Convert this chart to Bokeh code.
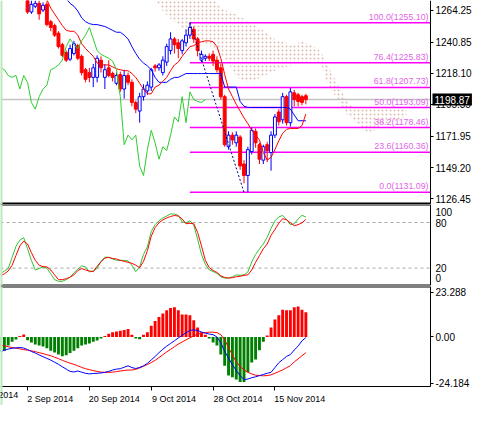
from bokeh.plotting import figure
from bokeh.models import Range1d, LinearAxis, FixedTicker, Span, Label, PrintfTickFormatter
from bokeh.layouts import column
from bokeh.embed import file_html
from bokeh.resources import INLINE
from bokeh.core.properties import value

FONT = "Liberation Sans"
TOTAL_W = 474          # whole canvas width
CHART_W = 430          # width of the plotting area left of the price scale

# ---------------- data (bar index 0 = 2 Sep 2014) ----------------
bar_idx = list(range(73))
opens = [1273.4, 1262.9, 1267.1, 1269.2, 1264.3, 1268.5, 1255.8, 1253.0, 1247.4, 1239.0,
         1233.3, 1228.4, 1232.6, 1238.3, 1230.5, 1220.7, 1218.6, 1215.1, 1215.1, 1227.7,
         1215.1, 1222.1, 1217.9, 1210.8, 1217.2, 1206.6, 1216.5, 1211.5, 1196.8, 1190.5,
         1201.0, 1205.2, 1208.0, 1223.5, 1222.1, 1218.6, 1226.3, 1234.7, 1243.2, 1240.4,
         1234.7, 1240.4, 1246.0, 1250.2, 1243.2, 1227.7, 1229.1, 1230.5, 1231.9, 1227.7,
         1222.1, 1201.0, 1164.4, 1172.9, 1167.3, 1171.5, 1151.8, 1143.4, 1160.9, 1175.7,
         1165.9, 1154.6, 1165.9, 1160.2, 1172.9, 1189.8, 1184.1, 1201.0, 1182.0, 1203.8,
         1202.4, 1201.0, 1201.7]
closes = [1262.9, 1268.5, 1269.2, 1261.5, 1267.8, 1253.7, 1251.6, 1246.0, 1237.6, 1231.2,
          1227.7, 1236.2, 1239.7, 1229.1, 1218.6, 1213.7, 1215.1, 1222.1, 1229.1, 1222.1,
          1220.7, 1216.5, 1215.1, 1216.5, 1206.6, 1216.5, 1211.5, 1196.8, 1191.9, 1201.0,
          1206.6, 1209.4, 1220.7, 1222.1, 1224.2, 1227.7, 1237.6, 1243.2, 1239.0, 1236.2,
          1241.8, 1246.0, 1251.6, 1243.2, 1234.7, 1231.9, 1230.5, 1229.1, 1227.0, 1220.7,
          1201.0, 1165.9, 1172.9, 1169.4, 1172.9, 1150.4, 1143.4, 1162.3, 1176.4, 1167.3,
          1155.3, 1164.4, 1161.6, 1172.9, 1186.2, 1182.7, 1201.0, 1182.0, 1204.5, 1198.9,
          1197.5, 1196.8, 1198.87]
highs = [1275.5, 1271.3, 1271.3, 1271.3, 1269.9, 1270.6, 1257.2, 1254.4, 1248.8, 1240.4,
         1234.7, 1239.0, 1241.8, 1239.7, 1231.9, 1222.1, 1222.1, 1224.9, 1231.2, 1230.5,
         1224.9, 1227.7, 1219.3, 1218.6, 1219.3, 1220.7, 1218.6, 1213.7, 1198.2, 1203.8,
         1210.1, 1212.2, 1222.1, 1224.9, 1225.6, 1230.5, 1239.7, 1248.1, 1244.6, 1243.2,
         1243.2, 1250.2, 1255.1, 1252.3, 1244.6, 1234.7, 1231.9, 1232.6, 1234.7, 1230.5,
         1224.9, 1202.4, 1175.7, 1175.0, 1175.7, 1172.9, 1154.6, 1164.4, 1178.5, 1177.8,
         1167.3, 1165.9, 1168.0, 1175.7, 1188.3, 1191.9, 1203.8, 1202.4, 1207.5, 1205.9,
         1203.8, 1202.4, 1203.1]
lows = [1261.5, 1261.5, 1265.7, 1257.2, 1262.9, 1252.3, 1248.8, 1244.6, 1236.2, 1229.8,
        1226.3, 1227.0, 1231.2, 1227.7, 1216.5, 1211.5, 1211.5, 1208.0, 1211.5, 1218.6,
        1206.6, 1215.1, 1212.2, 1209.4, 1204.5, 1199.6, 1209.4, 1194.0, 1189.0, 1182.0,
        1198.2, 1202.4, 1205.2, 1219.3, 1220.0, 1216.5, 1223.5, 1231.9, 1232.6, 1229.1,
        1231.9, 1237.6, 1243.2, 1240.4, 1230.5, 1226.3, 1227.0, 1227.0, 1223.5, 1218.6,
        1198.9, 1164.4, 1162.3, 1165.9, 1164.4, 1147.6, 1137.7, 1131.09, 1158.8, 1163.7,
        1151.8, 1151.8, 1153.2, 1146.9, 1170.8, 1179.9, 1181.3, 1179.9, 1179.2, 1194.0,
        1194.0, 1194.7, 1195.4]

tenkan_idx = list(range(5, 73))
tenkan = [1272.0, 1265.7, 1261.5, 1257.2, 1253.0,
          1249.5, 1248.8, 1248.8, 1246.0, 1239.7, 1236.2, 1233.3, 1230.5, 1225.6, 1224.2,
          1224.2, 1224.2, 1222.8, 1221.4, 1220.7, 1220.0, 1220.0, 1217.9, 1215.1, 1210.8,
          1206.6, 1203.1, 1203.1, 1208.0, 1209.4, 1212.2, 1215.1, 1220.0, 1224.2, 1226.3,
          1230.5, 1234.0, 1237.6, 1238.3, 1240.4, 1241.1, 1241.8, 1241.8, 1241.1, 1237.6,
          1229.1, 1217.2, 1206.6, 1201.0, 1195.4, 1190.5, 1185.5, 1181.3, 1176.4, 1172.9,
          1169.4, 1160.2, 1154.6, 1156.7, 1162.3, 1168.7, 1174.3, 1177.1, 1177.8, 1177.8,
          1177.8, 1179.9, 1188.3]
kijun_idx = list(range(10, 73))
kijun = [1272.7, 1269.2, 1267.1, 1263.6, 1258.6, 1255.8, 1254.4, 1253.7, 1253.7, 1253.0,
         1252.3, 1250.9, 1249.5, 1248.1, 1248.1, 1246.0, 1243.2, 1237.6, 1232.6, 1228.4,
         1225.6, 1223.5, 1220.7, 1215.1, 1211.5, 1211.5, 1211.5, 1213.7, 1215.1, 1215.1,
         1216.5, 1217.9, 1217.9, 1217.9, 1217.9, 1217.9, 1217.9, 1217.9, 1217.9, 1217.9,
         1217.9, 1208.0, 1208.0, 1208.0, 1208.0, 1197.5, 1194.0, 1193.1, 1193.1, 1193.1,
         1193.1, 1193.1, 1193.1, 1193.1, 1193.1, 1193.1, 1193.1, 1193.1, 1191.9, 1187.6,
         1183.4, 1183.4, 1183.4]
chikou_shift = 26

cloud_idx = list(range(30, 99))
span_a = [1278.3, 1275.5, 1273.4, 1271.3, 1267.8, 1263.6, 1260.8, 1257.9, 1255.8, 1253.7,
          1250.9, 1248.1, 1245.3, 1243.9, 1242.5, 1241.1, 1239.7, 1238.3, 1236.9, 1234.7,
          1231.9, 1229.1, 1225.6, 1220.0, 1215.8, 1213.7, 1212.2, 1211.5, 1212.2, 1212.9,
          1214.4, 1215.8, 1217.2, 1218.6, 1220.0, 1221.4, 1222.1, 1222.8, 1223.5, 1224.2,
          1224.9, 1225.6, 1225.6, 1227.7, 1227.7, 1226.3, 1224.2, 1215.1, 1208.0, 1203.8,
          1200.3, 1194.7, 1189.8, 1186.9, 1184.8, 1182.0, 1179.2, 1176.4, 1175.0, 1175.0,
          1177.1, 1179.2, 1181.3, 1182.0, 1182.7, 1183.4, 1184.1, 1185.5, 1186.2]
span_b = [1302.9, 1302.2, 1300.8, 1299.4, 1298.0, 1296.6, 1295.2, 1293.8, 1292.4, 1291.0,
          1288.9, 1287.5, 1285.4, 1283.3, 1281.1, 1279.0, 1276.9, 1274.8, 1272.7, 1269.9,
          1267.1, 1264.3, 1263.6, 1262.2, 1261.5, 1259.3, 1257.9, 1256.5, 1255.1, 1253.0,
          1250.9, 1249.5, 1247.4, 1245.3, 1243.2, 1241.8, 1241.1, 1240.4, 1239.7, 1239.7,
          1240.4, 1241.1, 1240.4, 1239.0, 1237.6, 1236.2, 1233.3, 1227.7, 1222.1, 1216.5,
          1211.5, 1206.6, 1201.0, 1196.1, 1194.0, 1192.5, 1192.5, 1192.5, 1192.5, 1192.5,
          1192.5, 1192.5, 1192.5, 1192.5, 1192.5, 1192.5, 1192.5, 1192.5, 1192.5]

fib_pct = ["100.0", "76.4", "61.8", "50.0", "38.2", "23.6", "0.0"]
fib_price = [1255.10, 1225.83, 1207.73, 1193.09, 1178.46, 1160.36, 1131.09]
fib_start_bar = 42
fib_end_bar = 56
last_price = 1198.87
price_ticks = [1264.25, 1240.85, 1218.10, 1195.35, 1171.95, 1149.20, 1126.45]

osc_idx = list(range(-7, 73))
stoch_k = [12.4, 16.2, 19.4, 34.0, 48.6, 56.8, 60.0,
           45.4, 30.2, 17.5, 19.4, 21.6, 20.0, 12.4, 4.8, 2.6, 2.6,
           4.8, 8.0, 13.7, 18.7, 22.9, 21.6, 14.9, 16.2, 19.6, 28.9,
           34.3, 34.3, 32.0, 30.2, 30.2, 30.2, 29.5, 23.8, 15.3, 21.6,
           38.0, 48.0, 68.2, 77.1, 82.2, 86.0, 88.5, 91.4, 91.0, 89.4,
           80.9, 79.6, 82.2, 76.7, 58.0, 37.8, 25.0, 17.5, 15.6, 13.0,
           8.6, 7.0, 7.0, 8.6, 11.1, 10.5, 11.1, 14.9, 28.0, 37.8,
           45.4, 51.7, 60.6, 72.4, 82.2, 87.3, 89.4, 84.1, 77.1, 78.4,
           84.7, 89.4, 87.3]
stoch_d = [10.5, 12.4, 16.2, 23.8, 36.5, 49.2, 55.5,
           51.7, 40.3, 30.2, 23.8, 21.9, 21.6, 17.5, 11.1, 4.8, 4.8,
           6.0, 8.0, 11.1, 16.8, 19.4, 17.5, 16.2, 15.3, 22.5, 28.2,
           33.3, 34.0, 32.7, 32.0, 30.2, 28.9, 27.6, 26.3, 23.8, 20.6,
           28.9, 42.8, 61.9, 73.3, 79.6, 83.5, 86.0, 87.9, 89.2, 88.5,
           84.7, 78.4, 79.0, 78.4, 67.0, 49.2, 30.2, 20.6, 16.8, 14.3,
           9.8, 7.7, 6.9, 7.3, 8.6, 9.2, 10.5, 11.1, 17.5, 27.6,
           36.5, 45.4, 51.7, 63.1, 70.8, 79.0, 85.1, 83.5, 79.6, 75.8,
           77.1, 79.6, 84.0]
stoch_levels = [20, 80]
# the terminal keeps its 0 / 100 scale labels just inside the window edges
stoch_label_pos = [6.7, 20, 80, 93.6]
stoch_label_text = ["0", "20", "80", "100"]

macd_hist = [-7.6, -7.2, -4.5, -2.5, -1.3, 0.5, 1.3,
             -1.7, -2.9, -3.9, -4.5, -5.0, -5.9, -7.2, -8.1, -9.2, -10.1,
             -9.6, -8.4, -7.2, -5.9, -4.5, -3.9, -3.4, -2.5, -1.8, -0.8,
             0.5, 1.7, 2.5, 2.9, 3.2, 3.7, 4.2, 1.2, -0.8, -1.2,
             1.2, 2.5, 5.9, 8.4, 10.4, 12.3, 14.0, 15.1, 15.6, 14.0,
             11.8, 11.8, 11.3, 8.7, 5.0, 2.5, 1.2, -0.8, -2.9, -4.5,
             -9.2, -15.1, -20.1, -21.0, -22.3, -23.5, -23.5, -18.5, -13.4, -11.8,
             -7.0, -2.5, 0.8, 5.0, 9.2, 11.3, 14.3, 14.0, 14.0, 15.6,
             15.9, 14.3, 12.9]
macd_line = [-7.6, -7.0, -6.3, -5.9, -5.7, -5.5, -5.8,
             -6.6, -7.6, -8.4, -9.4, -10.3, -11.2, -12.1, -13.2, -14.3, -15.6,
             -16.8, -18.0, -18.3, -17.8, -18.4, -19.0, -19.3, -19.1, -19.0, -18.8,
             -18.5, -18.0, -17.3, -16.8, -16.6, -15.8, -15.1, -16.0, -16.5, -15.9,
             -15.1, -13.8, -12.0, -10.2, -8.2, -6.4, -4.8, -3.4, -2.0, -0.5,
             0.9, 2.2, 3.4, 3.7, 3.4, 2.6, 2.0, 1.5, 1.2, 0.0,
             -3.0, -7.6, -11.0, -14.5, -17.5, -20.2, -22.3, -22.0, -21.3, -20.8,
             -20.2, -19.6, -19.0, -18.5, -16.0, -13.5, -11.8, -10.2, -9.2, -6.8,
             -4.8, -2.0, -0.3]
macd_signal = [-4.2, -4.6, -5.1, -5.5, -5.8, -6.2, -6.6,
               -6.9, -7.2, -7.7, -8.2, -8.7, -9.3, -9.8, -10.6, -11.3, -12.2,
               -13.0, -13.7, -14.3, -15.1, -15.9, -16.6, -17.1, -17.6, -18.0, -18.4,
               -18.5, -18.5, -18.4, -18.1, -17.8, -17.5, -17.3, -17.3, -16.9, -16.2,
               -15.3, -14.4, -13.4, -12.2, -10.8, -9.3, -7.8, -6.5, -5.1, -3.7,
               -2.6, -1.5, -0.4, 0.6, 1.4, 2.0, 2.3, 2.5, 2.5, 2.3,
               1.2, -1.5, -5.6, -9.3, -13.0, -15.5, -17.2, -18.5, -19.3, -20.0,
               -20.2, -20.3, -20.2, -19.8, -19.0, -18.1, -17.2, -16.1, -15.0, -13.0,
               -11.5, -9.8, -8.2]
macd_ticks = [23.288, 0.0, -24.184]
macd_tick_labels = ["23.288", "0.00", "-24.184"]

date_tick_bars = [-16, 0, 16, 32, 48, 64]
date_labels = ["14 Aug 2014", "2 Sep 2014", "20 Sep 2014", "9 Oct 2014",
               "28 Oct 2014", "15 Nov 2014"]

# ---------------- layout helpers ----------------
x_start = -7.0
chart_right = 104.25                       # bar coordinate of the price-scale border
x_end = x_start + (chart_right - x_start) * TOTAL_W / CHART_W
xr = Range1d(x_start, x_end)


def make_fig(frame_h, y_range, bottom_gap=0):
    f = figure(frame_width=TOTAL_W, frame_height=frame_h, x_range=xr, y_range=y_range,
               x_axis_location=None, y_axis_location="right",
               output_backend="svg", toolbar_location=None,
               min_border_left=0, min_border_right=0, min_border_top=0,
               min_border_bottom=bottom_gap, outline_line_color=None,
               background_fill_color="white", border_fill_color="white")
    f.xgrid.visible = False
    f.ygrid.visible = False
    ax = f.yaxis[0]
    ax.fixed_location = chart_right
    ax.axis_line_color = "black"
    ax.axis_line_width = 1
    ax.major_tick_in = 0
    ax.major_tick_out = 3
    ax.minor_tick_line_color = None
    ax.major_label_standoff = 2
    ax.major_label_text_font = FONT
    ax.major_label_text_font_size = "10px"
    ax.major_label_text_color = "black"
    f.add_layout(Span(location=x_start, dimension="height", line_color="#bfe8bf",
                      line_width=4))
    return f


def hborder(f, y, width):
    f.segment(x0=[x_start], y0=[y], x1=[chart_right], y1=[y], line_color="black",
              line_width=width)


# ---- main price panel ----
y1 = Range1d(1122.2, 1271.3)
p1 = make_fig(204, y1)
p1.yaxis[0].ticker = FixedTicker(ticks=price_ticks)
p1.yaxis[0].formatter = PrintfTickFormatter(format="%.2f")

p1.varea(x=cloud_idx, y1=span_a, y2=span_b, fill_color=None,
         hatch_pattern="dot", hatch_color="#dcbcae", hatch_scale=4, hatch_weight=1)
p1.segment(x0=[x_start], y0=[last_price], x1=[chart_right], y1=[last_price],
           line_color="#c4c4c4", line_width=1.5)
p1.segment(x0=[fib_start_bar] * len(fib_price), y0=fib_price,
           x1=[chart_right] * len(fib_price), y1=fib_price,
           line_color="#ff00ff", line_width=1.5)

bull = [c >= o for o, c in zip(opens, closes)]
c_line = ["#0000ff" if b else "#ff0000" for b in bull]
c_fill = ["#ffffff" if b else "#ff0000" for b in bull]
b_top = [max(o, c) for o, c in zip(opens, closes)]
b_bot = [min(o, c) for o, c in zip(opens, closes)]
p1.segment(x0=bar_idx, y0=highs, x1=bar_idx, y1=lows, line_color=c_line, line_width=1)
p1.vbar(x=bar_idx, width=0.75, top=b_top, bottom=b_bot, fill_color=c_fill,
        line_color=c_line, line_width=1)

p1.line(kijun_idx, kijun, line_color="#0000ff", line_width=1)
p1.line(tenkan_idx, tenkan, line_color="#ff0000", line_width=1)
chikou_x = [i - chikou_shift for i in bar_idx[19:]]
p1.line(chikou_x, closes[19:], line_color="#2ecc2e", line_width=1)
p1.line([fib_start_bar, fib_end_bar], [fib_price[0], fib_price[-1]],
        line_color="#000080", line_dash="2 2", line_width=1)

fib_text = [f"{p}({v:.2f})" for p, v in zip(fib_pct, fib_price)]
p1.text(x=[chart_right] * len(fib_price), y=fib_price, text=fib_text, text_align="right",
        text_baseline="bottom", x_offset=-2, y_offset=-1, text_font=value(FONT),
        text_font_size="8.8px", text_color="#e066e6")
hborder(p1, y1.start, 4)
p1.add_layout(Label(x=chart_right, y=last_price, x_offset=2, text=f"{last_price:.2f}",
                    text_align="left", text_baseline="middle", text_color="white",
                    text_font=FONT, text_font_size="10px",
                    background_fill_color="black", padding=2))

# ---- stochastic panel ----
y2 = Range1d(-2.9, 103.7)
p2 = make_fig(81, y2, bottom_gap=1)
p2.yaxis[0].ticker = FixedTicker(ticks=stoch_label_pos)
p2.yaxis[0].major_label_overrides = dict(zip(stoch_label_pos, stoch_label_text))
p2.yaxis[0].major_tick_line_color = None
p2.segment(x0=[x_start] * 2, y0=stoch_levels, x1=[chart_right] * 2, y1=stoch_levels,
           line_color="#a8a8a8", line_dash="3 3", line_width=1)
p2.line(osc_idx, stoch_k, line_color="#33c133", line_width=1)
p2.line(osc_idx, stoch_d, line_color="#ff0000", line_width=1)
hborder(p2, y2.end, 2)
hborder(p2, y2.start, 2)

# ---- MACD panel (with the date scale underneath) ----
macd_top, macd_bottom = 26.4, -25.9
macd_px = 100                     # height of the MACD window in pixels
date_px = 19                      # height of the date strip under it
y3 = Range1d(macd_bottom - (macd_top - macd_bottom) * date_px / macd_px, macd_top)
p3 = make_fig(macd_px + date_px, y3)
ax3 = p3.yaxis[0]
ax3.ticker = FixedTicker(ticks=macd_ticks)
ax3.major_label_overrides = dict(zip(macd_ticks, macd_tick_labels))
ax3.axis_line_color = None
p3.segment(x0=[chart_right], y0=[macd_bottom], x1=[chart_right], y1=[macd_top],
           line_color="black", line_width=1)

h_col = ["#ff0000" if v >= 0 else "#008000" for v in macd_hist]
p3.vbar(x=osc_idx, width=0.75, top=macd_hist, bottom=0, fill_color=h_col,
        line_color=None)
p3.line(osc_idx, macd_signal, line_color="#ff0000", line_width=1)
p3.line(osc_idx, macd_line, line_color="#0000ff", line_width=1)
hborder(p3, macd_top, 2)
hborder(p3, macd_bottom, 1)

visible_dates = [(b, t) for b, t in zip(date_tick_bars, date_labels) if b >= x_start]
label_centers = [b + 0.6 + 0.53 * len(t) for b, t in visible_dates]
xax = LinearAxis(ticker=FixedTicker(ticks=label_centers,
                                    minor_ticks=[b for b, _ in visible_dates]),
                 major_label_overrides=dict(zip(label_centers, [t for _, t in visible_dates])),
                 fixed_location=macd_bottom, axis_line_color=None,
                 major_tick_line_color=None, major_tick_in=0, major_tick_out=0,
                 minor_tick_line_color="black", minor_tick_in=0, minor_tick_out=4,
                 major_label_standoff=3, major_label_text_font=FONT,
                 major_label_text_font_size="9px", major_label_text_color="black")
p3.add_layout(xax, "below")
for b, t in zip(date_tick_bars, date_labels):
    if b < x_start:   # label whose tick lies left of the window: only its tail shows
        p3.add_layout(Label(x=b, y=macd_bottom, x_offset=2, y_offset=-3, text=t,
                            text_align="left", text_baseline="top", text_font=FONT,
                            text_font_size="9px", text_color="black"))

layout = column(p1, p2, p3)
open("out.html", "w").write(file_html(layout, INLINE))
